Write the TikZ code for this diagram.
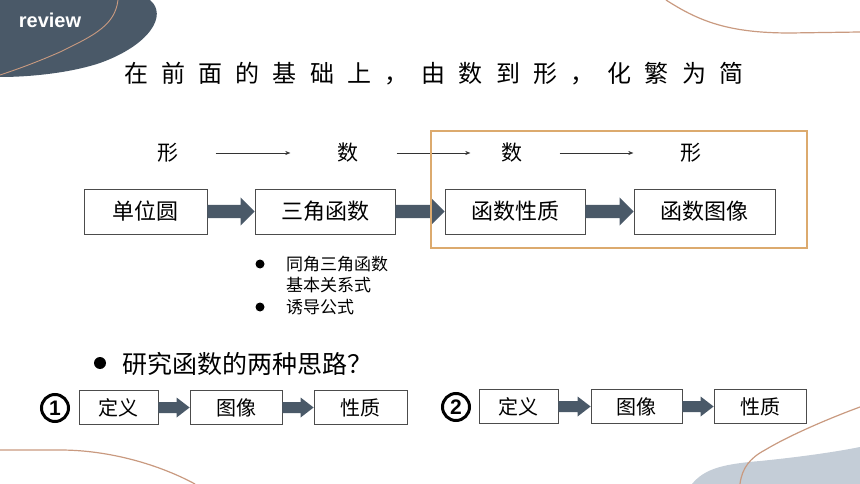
\documentclass[tikz,border=0pt]{standalone}
\usepackage{fontspec}
\setmainfont{Noto Sans CJK SC}
\newfontfamily\latinfont{Liberation Sans}
\newfontfamily\titlefont[LetterSpace=55]{Noto Sans CJK SC}
\usetikzlibrary{calc}
\definecolor{slate}{HTML}{4A5968}
\definecolor{mist}{HTML}{C4CDD7}
\definecolor{copper}{HTML}{C99A80}
\definecolor{sand}{HTML}{DCAA6E}
\newcommand{\blockarrow}[5]{%
  \fill[slate] ($(#1.east)+(0,-#3)$) -- ($(#2.west)+(-#5,-#3)$) -- ($(#2.west)+(-#5,-#4)$)
    -- (#2.west) -- ($(#2.west)+(-#5,#4)$) -- ($(#2.west)+(-#5,#3)$) -- ($(#1.east)+(0,#3)$) -- cycle;}
\tikzset{
  box/.style={draw=black!70, line width=0.8pt, inner sep=0pt, minimum height=45pt, font=\fontsize{22}{22}\selectfont},
  smallbox/.style={box, minimum height=34pt, font=\fontsize{20}{20}\selectfont},
  thinarrow/.style={black!80, line width=0.5pt, -{Stealth[length=5pt,width=4pt]}},
  trail/.style={copper, line width=1.2pt},
  sign/.style={font=\fontsize{21}{21}\selectfont, inner sep=0pt},
  num/.style={circle, draw, line width=3pt, inner sep=0pt, minimum size=27pt, font=\latinfont\bfseries\fontsize{21}{21}\selectfont}
}
\usetikzlibrary{arrows.meta}
\begin{document}
\begin{tikzpicture}[x=1pt,y=-1pt]
  \useasboundingbox (0,0) rectangle (860,484);
  \fill[slate] (0,0) -- (150,0) .. controls (168,15) and (150,45) .. (100,63) .. controls (70,73) and (30,77) .. (0,77) -- cycle;
  \draw[trail, line width=0.9pt] (118,0) .. controls (115,25) and (95,35) .. (60,52) .. controls (35,63) and (15,70) .. (0,75);
  \node[white, font=\latinfont\bfseries\fontsize{20}{20}\selectfont] (review) at (50,20) {review};
  \draw[trail] (666,0) .. controls (700,22) and (730,33) .. (790,33) -- (860,32);
  \fill[mist] (692,484) .. controls (705,468) and (725,464) .. (760,461) .. controls (800,457) and (835,452) .. (860,447) -- (860,484) -- cycle;
  \draw[trail] (740,484) .. controls (742,468) and (750,458) .. (765,450) .. controls (790,435) and (830,418) .. (860,407);
  \draw[trail] (0,450) -- (60,450) .. controls (110,450) and (160,465) .. (195,484);

  \node[anchor=west, inner sep=0pt, font=\titlefont\fontsize{24}{24}\selectfont] (title) at (124,74) {在前面的基础上，由数到形，化繁为简};

  \node[sign] (xing1) at (168,153) {形};
  \node[sign] (shu1) at (348,153) {数};
  \node[sign] (shu2) at (512,153) {数};
  \node[sign] (xing2) at (691,153) {形};
  \draw[thinarrow, shorten <=37pt, shorten >=47pt] (xing1) -- (shu1);
  \draw[thinarrow, shorten <=38pt, shorten >=31pt] (shu1) -- (shu2);
  \draw[thinarrow, shorten <=37pt, shorten >=47pt] (shu2) -- (xing2);

  \node[box, minimum width=123pt] (circ) at (145.5,211.5) {单位圆};
  \node[box, minimum width=140pt] (trig) at (325,211.5) {三角函数};
  \node[box, minimum width=140pt] (prop) at (515,211.5) {函数性质};
  \node[box, minimum width=141pt] (graph) at (704.5,211.5) {函数图像};
  \blockarrow{circ}{trig}{6.5}{14}{14}
  \blockarrow{trig}{prop}{6.5}{14}{14}
  \blockarrow{prop}{graph}{6.5}{14}{14}
  \draw[sand, line width=2.2pt] (431,131) rectangle (807,248);

  \fill (260,264) circle (4.5pt);
  \fill (260,307) circle (4.5pt);
  \node[anchor=west, align=left, inner sep=0pt, font=\fontsize{17}{21}\selectfont] (rel) at (286,275) {同角三角函数\\基本关系式};
  \node[anchor=west, inner sep=0pt, font=\fontsize{17}{17}\selectfont] (ind) at (286,307) {诱导公式};

  \fill (100,363) circle (6pt);
  \node[anchor=west, inner sep=0pt, font=\fontsize{25}{25}\selectfont] (ask) at (122,364) {研究函数的两种思路？};

  \node[num] (one) at (55,408) {1};
  \node[smallbox, minimum width=79pt] (defa) at (118.5,407.5) {定义};
  \node[smallbox, minimum width=92pt] (imga) at (236,407.5) {图像};
  \node[smallbox, minimum width=93pt] (propa) at (360.5,407.5) {性质};
  \blockarrow{defa}{imga}{5.5}{10}{13}
  \blockarrow{imga}{propa}{5.5}{10}{13}

  \node[num] (two) at (456,407) {2};
  \node[smallbox, minimum width=79pt] (defb) at (518.5,406.5) {定义};
  \node[smallbox, minimum width=91pt] (imgb) at (636.5,406.5) {图像};
  \node[smallbox, minimum width=92pt] (propb) at (760,406.5) {性质};
  \blockarrow{defb}{imgb}{5.5}{10}{13}
  \blockarrow{imgb}{propb}{5.5}{10}{13}
\end{tikzpicture}
\end{document}
